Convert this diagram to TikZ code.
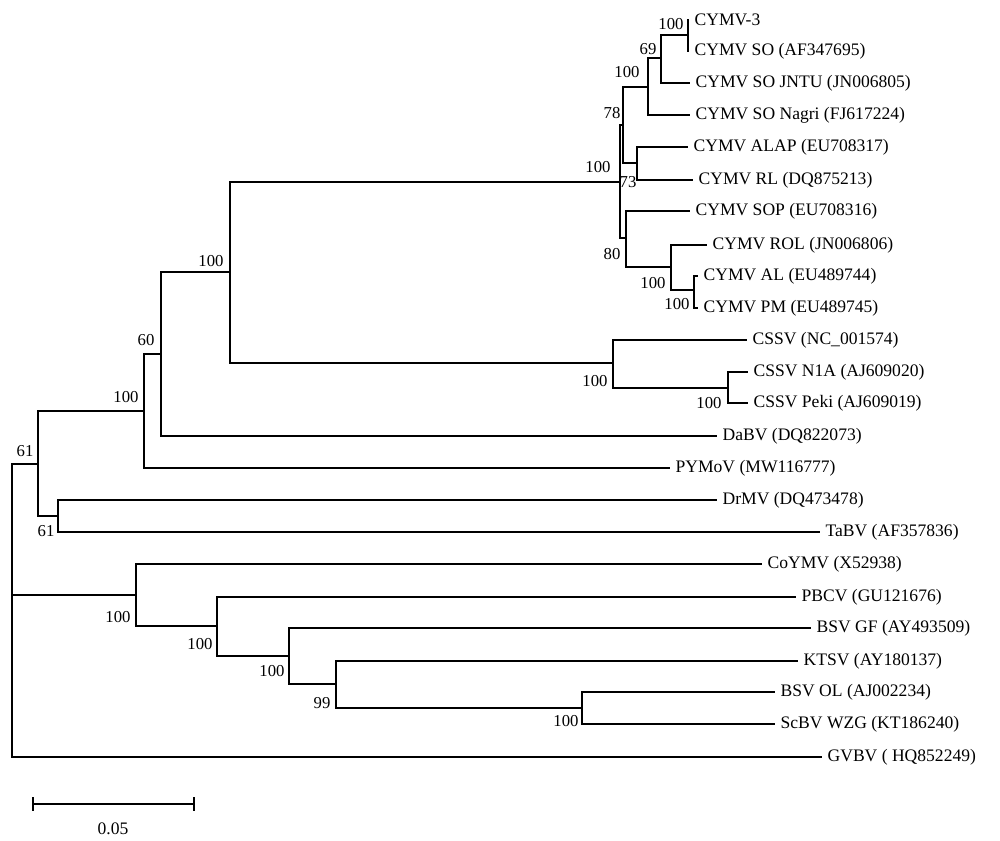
\documentclass[tikz,border=0pt]{standalone}
\usepackage{fontspec}
\setmainfont{Liberation Serif}
\tikzset{
  branch/.style={line width=1pt, black},
  taxon/.style={anchor=west, inner sep=3pt, font=\fontsize{10}{12}\selectfont},
  boot/.style={inner sep=0pt, font=\fontsize{9.5}{11}\selectfont}
}
\begin{document}
\begin{tikzpicture}[x=0.02cm, y=-0.02cm]
    \useasboundingbox (0,0) rectangle (1000,841);

    % internal nodes
    \coordinate (root) at (12, 595);
    \coordinate (n61a) at (38, 464);
    \coordinate (nA) at (144, 411);
    \coordinate (n60) at (161, 354);
    \coordinate (nB) at (230, 272);
    \coordinate (nCymv) at (620, 182);
    \coordinate (n78) at (623, 125);
    \coordinate (nSo) at (648, 87);
    \coordinate (n69) at (661, 58);
    \coordinate (nTop) at (688, 35);
    \coordinate (nRl) at (637, 163);
    \coordinate (n80) at (626, 238);
    \coordinate (nRol) at (671, 267);
    \coordinate (nPm) at (694, 290);
    \coordinate (nCssv) at (613, 363);
    \coordinate (nPeki) at (728, 388);
    \coordinate (n61b) at (58, 516);
    \coordinate (nCo) at (136, 595);
    \coordinate (nPbcv) at (217, 626);
    \coordinate (nGf) at (289, 656);
    \coordinate (nKt) at (336, 684);
    \coordinate (nOl) at (582, 708);

    % leaf ends
    \coordinate (cymv3) at (689, 20);
    \coordinate (cymvSo) at (689, 51);
    \coordinate (jntu) at (690, 83);
    \coordinate (nagri) at (690, 115);
    \coordinate (alap) at (688, 147);
    \coordinate (rl) at (693, 180);
    \coordinate (sop) at (690, 211);
    \coordinate (rol) at (707, 245);
    \coordinate (al) at (698, 276);
    \coordinate (pm) at (698, 308);
    \coordinate (cssv) at (747, 340);
    \coordinate (n1a) at (748, 372);
    \coordinate (peki) at (748, 403);
    \coordinate (dabv) at (717, 436);
    \coordinate (pymov) at (670, 468);
    \coordinate (drmv) at (717, 500);
    \coordinate (tabv) at (820, 532);
    \coordinate (coymv) at (762, 564);
    \coordinate (pbcv) at (796, 597);
    \coordinate (bsvGf) at (811, 628);
    \coordinate (ktsv) at (798, 661);
    \coordinate (bsvOl) at (775, 692);
    \coordinate (scbv) at (775, 724);
    \coordinate (gvbv) at (822, 757);

    % branches
    \draw[branch] (root) |- (n61a);
    \draw[branch] (root) |- (nCo);
    \draw[branch] (root) |- (gvbv);
    \draw[branch] (n61a) |- (nA);
    \draw[branch] (n61a) |- (n61b);
    \draw[branch] (nA) |- (n60);
    \draw[branch] (nA) |- (pymov);
    \draw[branch] (n60) |- (nB);
    \draw[branch] (n60) |- (dabv);
    \draw[branch] (nB) |- (nCymv);
    \draw[branch] (nB) |- (nCssv);
    \draw[branch] (nCymv) |- (n78);
    \draw[branch] (nCymv) |- (n80);
    \draw[branch] (n78) |- (nSo);
    \draw[branch] (n78) |- (nRl);
    \draw[branch] (nSo) |- (n69);
    \draw[branch] (nSo) |- (nagri);
    \draw[branch] (n69) |- (nTop);
    \draw[branch] (n69) |- (jntu);
    \draw[branch] (nTop) |- (cymv3);
    \draw[branch] (nTop) |- (cymvSo);
    \draw[branch] (nRl) |- (alap);
    \draw[branch] (nRl) |- (rl);
    \draw[branch] (n80) |- (sop);
    \draw[branch] (n80) |- (nRol);
    \draw[branch] (nRol) |- (rol);
    \draw[branch] (nRol) |- (nPm);
    \draw[branch] (nPm) |- (al);
    \draw[branch] (nPm) |- (pm);
    \draw[branch] (nCssv) |- (cssv);
    \draw[branch] (nCssv) |- (nPeki);
    \draw[branch] (nPeki) |- (n1a);
    \draw[branch] (nPeki) |- (peki);
    \draw[branch] (n61b) |- (drmv);
    \draw[branch] (n61b) |- (tabv);
    \draw[branch] (nCo) |- (coymv);
    \draw[branch] (nCo) |- (nPbcv);
    \draw[branch] (nPbcv) |- (pbcv);
    \draw[branch] (nPbcv) |- (nGf);
    \draw[branch] (nGf) |- (bsvGf);
    \draw[branch] (nGf) |- (nKt);
    \draw[branch] (nKt) |- (ktsv);
    \draw[branch] (nKt) |- (nOl);
    \draw[branch] (nOl) |- (bsvOl);
    \draw[branch] (nOl) |- (scbv);

    % taxon names
    \node[taxon] (tCymv3) at (cymv3) {CYMV-3};
    \node[taxon] (tCymvSo) at (cymvSo) {CYMV SO (AF347695)};
    \node[taxon] (tJntu) at (jntu) {CYMV SO JNTU (JN006805)};
    \node[taxon] (tNagri) at (nagri) {CYMV SO Nagri (FJ617224)};
    \node[taxon] (tAlap) at (alap) {CYMV ALAP (EU708317)};
    \node[taxon] (tRl) at (rl) {CYMV RL (DQ875213)};
    \node[taxon] (tSop) at (sop) {CYMV SOP (EU708316)};
    \node[taxon] (tRol) at (rol) {CYMV ROL (JN006806)};
    \node[taxon] (tAl) at (al) {CYMV AL (EU489744)};
    \node[taxon] (tPm) at (pm) {CYMV PM (EU489745)};
    \node[taxon] (tCssv) at (cssv) {CSSV (NC\_001574)};
    \node[taxon] (tN1a) at (n1a) {CSSV N1A (AJ609020)};
    \node[taxon] (tPeki) at (peki) {CSSV Peki (AJ609019)};
    \node[taxon] (tDabv) at (dabv) {DaBV (DQ822073)};
    \node[taxon] (tPymov) at (pymov) {PYMoV (MW116777)};
    \node[taxon] (tDrmv) at (drmv) {DrMV (DQ473478)};
    \node[taxon] (tTabv) at (tabv) {TaBV (AF357836)};
    \node[taxon] (tCoymv) at (coymv) {CoYMV (X52938)};
    \node[taxon] (tPbcv) at (pbcv) {PBCV (GU121676)};
    \node[taxon] (tBsvGf) at (bsvGf) {BSV GF (AY493509)};
    \node[taxon] (tKtsv) at (ktsv) {KTSV (AY180137)};
    \node[taxon] (tBsvOl) at (bsvOl) {BSV OL (AJ002234)};
    \node[taxon] (tScbv) at (scbv) {ScBV WZG (KT186240)};
    \node[taxon] (tGvbv) at (gvbv) {GVBV ( HQ852249)};

    % bootstrap values
    \node[boot] (b61a) at (25, 451) {61};
    \node[boot] (bA) at (126, 397) {100};
    \node[boot] (b60) at (146, 340) {60};
    \node[boot] (bB) at (211, 261) {100};
    \node[boot] (bCymv) at (598, 167) {100};
    \node[boot] (b78) at (612, 113) {78};
    \node[boot] (bSo) at (627, 72) {100};
    \node[boot] (b69) at (648, 49) {69};
    \node[boot] (bTop) at (671, 24) {100};
    \node[boot] (bRl) at (628, 182) {73};
    \node[boot] (b80) at (612, 254) {80};
    \node[boot] (bRol) at (653, 283) {100};
    \node[boot] (bPm) at (677, 304) {100};
    \node[boot] (bCssv) at (595, 381) {100};
    \node[boot] (bPeki) at (709, 403) {100};
    \node[boot] (b61b) at (46, 531) {61};
    \node[boot] (bCo) at (118, 617) {100};
    \node[boot] (bPbcv) at (200, 644) {100};
    \node[boot] (bGf) at (272, 671) {100};
    \node[boot] (bKt) at (322, 703) {99};
    \node[boot] (bOl) at (566, 721) {100};

    % scale bar
    \coordinate (sbL) at (32, 804);
    \coordinate (sbR) at (195, 804);
    \draw[branch, |-|] (sbL) -- (sbR);
    \node[taxon, anchor=center] (sbText) at (113, 829) {0.05};
\end{tikzpicture}
\end{document}
